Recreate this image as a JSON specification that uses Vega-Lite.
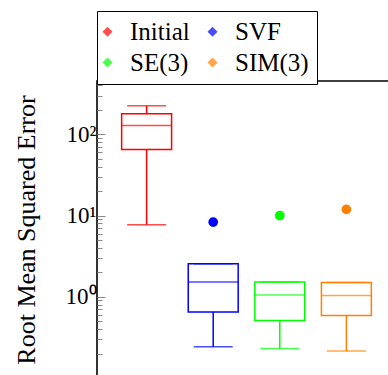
{
  "$schema": "https://vega.github.io/schema/vega-lite/v6.json",
  "width": 299,
  "height": 297,
  "autosize": "none",
  "padding": {"left": 97, "top": 81, "right": 0, "bottom": 0},
  "background": "white",
  "config": {
    "view": {"stroke": "black", "strokeWidth": 1.6},
    "font": "Liberation Serif"
  },
  "data": {
    "values": [
      {"method": "Initial", "lower": 7.7, "q1": 65, "median": 128, "q3": 179, "upper": 225, "outlier": null},
      {"method": "SVF", "lower": 0.243, "q1": 0.65, "median": 1.52, "q3": 2.55, "upper": 2.55, "outlier": 8.3},
      {"method": "SE(3)", "lower": 0.23, "q1": 0.51, "median": 1.05, "q3": 1.52, "upper": 1.52, "outlier": 10},
      {"method": "SIM(3)", "lower": 0.215, "q1": 0.59, "median": 1.04, "q3": 1.5, "upper": 1.5, "outlier": 11.9}
    ]
  },
  "layer": [
    {
      "mark": {"type": "rule", "strokeWidth": 1.5},
      "encoding": {
        "x": {"field": "method", "type": "nominal", "sort": ["Initial", "SVF", "SE(3)", "SIM(3)"],
              "scale": {"domain": ["Initial", "SVF", "SE(3)", "SIM(3)"], "paddingInner": 0, "paddingOuter": 0.245}, "axis": null},
        "y": {"field": "lower", "type": "quantitative",
              "scale": {"type": "log", "domain": [0.1, 453], "nice": false, "zero": false},
              "axis": {
                "orient": "left",
                "values": [0.2, 0.3, 0.4, 0.5, 0.6, 0.7, 0.8, 0.9, 1, 2, 3, 4, 5, 6, 7, 8, 9, 10, 20, 30, 40, 50, 60, 70, 80, 90, 100, 200, 300, 400],
                "labelExpr": "datum.value == 100 ? '10²' : datum.value == 10 ? '10¹' : datum.value == 1 ? '10⁰' : ''",
                "tickSize": {"condition": {"test": "datum.value == 1 || datum.value == 10 || datum.value == 100", "value": -8}, "value": -5},
                "tickColor": "#888888",
                "tickWidth": 1,
                "domain": false,
                "grid": false,
                "labelFont": "Liberation Serif",
                "labelFontSize": 23,
                "labelColor": "black",
                "labelPadding": 9,
                "labelFlush": false,
                "labelOverlap": false,
                "title": "Root Mean Squared Error",
                "titleFont": "Liberation Serif",
                "titleFontSize": 26,
                "titleFontWeight": "normal",
                "titleColor": "black",
                "titlePadding": 26
              }},
        "y2": {"field": "q1"},
        "color": {"field": "method", "type": "nominal",
                  "scale": {"domain": ["Initial", "SVF", "SE(3)", "SIM(3)"], "range": ["#ff0000", "#0000ff", "#00ff00", "#ff8000"]}}
      }
    },
    {
      "mark": {"type": "rule", "strokeWidth": 1.5},
      "encoding": {
        "x": {"field": "method", "type": "nominal", "axis": null},
        "y": {"field": "q3", "type": "quantitative",
              "axis": {
                "orient": "right",
                "values": [0.2, 0.3, 0.4, 0.5, 0.6, 0.7, 0.8, 0.9, 1, 2, 3, 4, 5, 6, 7, 8, 9, 10, 20, 30, 40, 50, 60, 70, 80, 90, 100, 200, 300, 400],
                "labels": false,
                "tickSize": {"condition": {"test": "datum.value == 1 || datum.value == 10 || datum.value == 100", "value": -8}, "value": -5},
                "tickColor": "#888888",
                "tickWidth": 1,
                "domain": false,
                "grid": false,
                "title": null
              }},
        "y2": {"field": "upper"},
        "color": {"field": "method", "type": "nominal"}
      }
    },
    {
      "mark": {"type": "bar", "fill": "white", "strokeWidth": 1.5, "width": {"band": 0.75}},
      "encoding": {
        "x": {"field": "method", "type": "nominal", "axis": null},
        "y": {"field": "q1", "type": "quantitative", "axis": null},
        "y2": {"field": "q3"},
        "stroke": {"field": "method", "type": "nominal", "legend": null,
                   "scale": {"domain": ["Initial", "SVF", "SE(3)", "SIM(3)"], "range": ["#ff0000", "#0000ff", "#00ff00", "#ff8000"]}}
      }
    },
    {
      "mark": {"type": "tick", "size": 50, "thickness": 1.5},
      "encoding": {
        "x": {"field": "method", "type": "nominal", "axis": null},
        "y": {"field": "median", "type": "quantitative", "axis": null},
        "color": {"field": "method", "type": "nominal"}
      }
    },
    {
      "mark": {"type": "tick", "size": 39, "thickness": 1.5},
      "encoding": {
        "x": {"field": "method", "type": "nominal", "axis": null},
        "y": {"field": "lower", "type": "quantitative", "axis": null},
        "color": {"field": "method", "type": "nominal"}
      }
    },
    {
      "mark": {"type": "tick", "size": 39, "thickness": 1.5},
      "encoding": {
        "x": {"field": "method", "type": "nominal", "axis": null},
        "y": {"field": "upper", "type": "quantitative", "axis": null},
        "color": {"field": "method", "type": "nominal"}
      }
    },
    {
      "transform": [{"filter": "isValid(datum.outlier)"}],
      "mark": {"type": "point", "filled": true, "opacity": 1, "size": 95},
      "encoding": {
        "x": {"field": "method", "type": "nominal", "axis": null},
        "y": {"field": "outlier", "type": "quantitative", "axis": null},
        "color": {"field": "method", "type": "nominal",
                  "legend": {
                    "orient": "none",
                    "legendX": 0,
                    "legendY": -70,
                    "direction": "horizontal",
                    "columns": 2,
                    "title": null,
                    "symbolType": "diamond",
                    "symbolSize": 100,
                    "symbolStrokeWidth": 0,
                    "symbolOffset": -10,
                    "labelFont": "Liberation Serif",
                    "labelFontSize": 25,
                    "labelColor": "black",
                    "labelAlign": "left",
                    "labelOffset": 10,
                    "columnPadding": 17,
                    "rowPadding": 5,
                    "padding": 8,
                    "strokeColor": "black",
                    "fillColor": "white",
                    "encode": {
                      "symbols": {"update": {"fill": {"scale": "color", "field": "value"}, "opacity": {"value": 1}}},
                      "legend": {"update": {"strokeWidth": {"value": 1.5}}}
                    }
                  }}
      }
    }
  ],
  "resolve": {"axis": {"y": "independent"}}
}
